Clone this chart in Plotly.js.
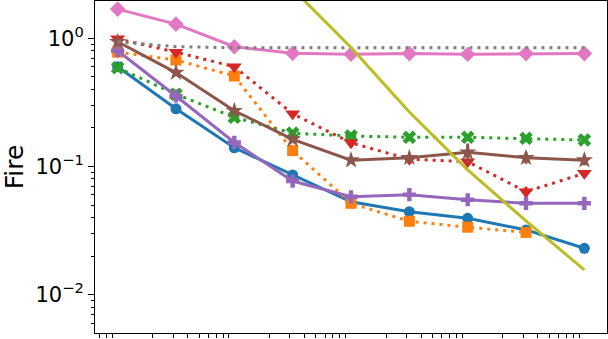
<!DOCTYPE html>
<html>
<head>
<meta charset="utf-8">
<script src="https://cdn.plot.ly/plotly-3.0.1.min.js"></script>
<style>html,body{margin:0;padding:0;background:#fff;}#chart{width:608px;height:339px;}</style>
</head>
<body>
<div id="chart"></div>
<script>
// x positions of the measurements (log scale)
const xValues = [1, 3.162, 10, 31.62, 100, 316.2, 1000, 3162, 10000];
const xOlive = [31.62, 100, 316.2, 1000, 3162, 10000];

// series values
const blueVals   = [0.60, 0.282, 0.140, 0.086, 0.053, 0.0444, 0.0394, 0.032, 0.023];
const orangeVals = [0.78, 0.677, 0.508, 0.133, 0.0516, 0.0374, 0.0336, 0.0306];
const greenVals  = [0.59, 0.366, 0.242, 0.182, 0.173, 0.169, 0.169, 0.166, 0.161];
const redVals    = [0.99, 0.78, 0.60, 0.258, 0.153, 0.114, 0.109, 0.0636, 0.0885];
const purpleVals = [0.80, 0.355, 0.154, 0.077, 0.058, 0.0603, 0.055, 0.0516, 0.0516];
const brownVals  = [0.94, 0.54, 0.272, 0.163, 0.112, 0.117, 0.129, 0.117, 0.112];
const pinkVals   = [1.69, 1.29, 0.86, 0.764, 0.75, 0.76, 0.75, 0.76, 0.76];
const grayVals   = [0.94, 0.86, 0.845, 0.845, 0.845, 0.845, 0.845, 0.845, 0.845];
const oliveVals  = [2.43, 0.848, 0.266, 0.094, 0.0376, 0.0156];

// error bar half-lengths
const blueErr   = [0, 0, 0, 0.003, 0, 0.003, 0.004, 0.002, 0];
const greenErr  = [0, 0, 0, 0, 0, 0, 0.008, 0, 0];
const redErr    = [0, 0, 0, 0, 0.01, 0.008, 0, 0.006, 0];
const purpleErr = [0, 0, 0, 0.004, 0, 0.004, 0.004, 0, 0.003];
const brownErr  = [0, 0, 0, 0, 0, 0.006, 0.022, 0.012, 0.010];

// tick labels
const yTickVals = [0.01, 0.1, 1];
const yTickText = ['10<sup>\u22122</sup>', '10<sup>\u22121</sup>', '10<sup>0</sup>'];
const yMinorVals = [0.006, 0.007, 0.008, 0.009,
  0.02, 0.03, 0.04, 0.05, 0.06, 0.07, 0.08, 0.09,
  0.2, 0.3, 0.4, 0.5, 0.6, 0.7, 0.8, 0.9];
const xMinorVals = [0.7, 0.8, 0.9,
  2, 3, 4, 5, 6, 7, 8, 9,
  20, 30, 40, 50, 60, 70, 80, 90,
  200, 300, 400, 500, 600, 700, 800, 900,
  2000, 3000, 4000, 5000, 6000, 7000, 8000, 9000];

const DOT = '3px,5px';
function tr(x, y, color, dash, symbol, size, err) {
  const t = {
    x: x, y: y, type: 'scatter',
    mode: symbol ? 'lines+markers' : 'lines',
    line: {color: color, width: 3, dash: dash},
    cliponaxis: true
  };
  if (symbol) t.marker = {color: color, symbol: symbol, size: size, line: {width: 0}};
  if (err) t.error_y = {type: 'data', array: err, visible: true, color: color, thickness: 3, width: 0};
  return t;
}

const data = [
  tr(xValues, blueVals, '#1f77b4', 'solid', 'circle', 11, blueErr),
  tr(xValues.slice(0, orangeVals.length), orangeVals, '#ff7f0e', DOT, 'square', 11, null),
  tr(xValues, greenVals, '#2ca02c', DOT, 'x', 12, greenErr),
  tr(xValues, redVals, '#d62728', DOT, 'triangle-down', 13, redErr),
  tr(xValues, purpleVals, '#9467bd', 'solid', 'cross', 11, purpleErr),
  tr(xValues, brownVals, '#8c564b', 'solid', 'star', 13, brownErr),
  tr(xValues, pinkVals, '#e377c2', 'solid', 'diamond', 12, null),
  tr(xValues, grayVals, '#7f7f7f', DOT, null, 0, null),
  tr(xOlive, oliveVals, '#bcbd22', 'solid', null, 0, null)
];

const layout = {
  width: 608, height: 339,
  margin: {l: 95, r: 1, t: 1, b: 6, pad: 0},
  paper_bgcolor: '#ffffff', plot_bgcolor: '#ffffff',
  showlegend: false,
  font: {family: 'DejaVu Sans', color: '#000000'},
  xaxis: {
    type: 'log', range: [-0.194, 4.194],
    showline: true, linecolor: '#000000', linewidth: 1, mirror: true,
    ticks: '', showticklabels: false, showgrid: false, zeroline: false,
    minor: {ticks: 'outside', ticklen: 3.5, tickwidth: 1, tickcolor: '#000000',
            tickmode: 'array', tickvals: xMinorVals, showgrid: false}
  },
  yaxis: {
    type: 'log', range: [-2.299, 0.291],
    showline: true, linecolor: '#000000', linewidth: 1, mirror: true,
    tickmode: 'array', tickvals: yTickVals, ticktext: yTickText,
    ticks: 'outside', ticklen: 6, tickwidth: 1, tickcolor: '#000000',
    tickfont: {family: 'DejaVu Sans', size: 21, color: '#000000'},
    showgrid: false, zeroline: false,
    minor: {ticks: 'outside', ticklen: 3.5, tickwidth: 1, tickcolor: '#000000',
            tickmode: 'array', tickvals: yMinorVals, showgrid: false},
    title: {text: 'Fire', font: {family: 'DejaVu Sans', size: 25, color: '#000000'}, standoff: 4}
  }
};

Plotly.newPlot('chart', data, layout, {staticPlot: true, displayModeBar: false});
</script>
</body>
</html>
